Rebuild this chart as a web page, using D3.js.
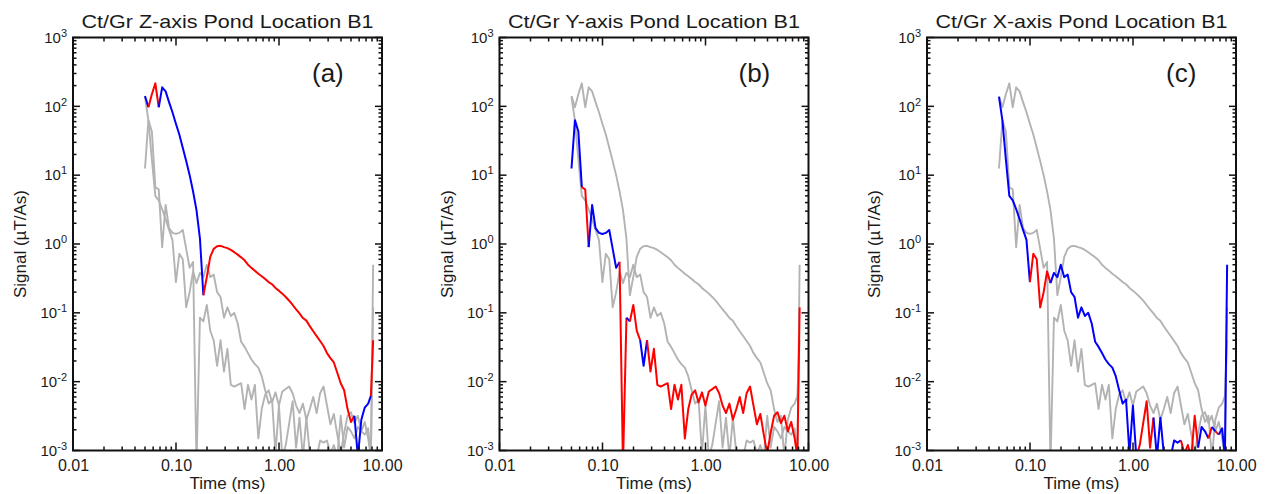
<!DOCTYPE html>
<html>
<head>
<meta charset="utf-8">
<script src="https://cdn.jsdelivr.net/npm/d3@7"></script>
<style>
  body { margin: 0; background: #fff; }
  svg text { font-family: "Liberation Sans", Arial, sans-serif; fill: #1a1a1a; }
</style>
</head>
<body>
<svg id="chart" width="1265" height="494"></svg>
<script>
// time gates (ms), shared by all three components
const gates = [
  0.0500, 0.0540, 0.0583, 0.0630, 0.0680, 0.0734, 0.0793, 0.0856, 0.0924, 0.0998,
  0.1077, 0.1163, 0.1256, 0.1357, 0.1465, 0.1581, 0.1708, 0.1844, 0.1991, 0.2150,
  0.2321, 0.2507, 0.2707, 0.2923, 0.3156, 0.3408, 0.3680, 0.3973, 0.4290, 0.4633,
  0.500, 0.540, 0.583, 0.630, 0.680, 0.734, 0.793, 0.856, 0.924, 0.998,
  1.077, 1.163, 1.256, 1.357, 1.465, 1.581, 1.708, 1.844, 1.991, 2.150,
  2.321, 2.507, 2.707, 2.923, 3.156, 3.408, 3.680, 3.973, 4.290, 4.633,
  5.00, 5.40, 5.83, 6.30, 6.80, 7.34, 7.80, 8.20
];

// signed signal (uT/As); positive drawn red, negative blue
const zAxis = [
  -141, -97, 150, 216, 97, -189, -165, -115, -82, -56,
  -39, -25, -16, -10, -5.8, -3.1, -1.2, -0.18, 0.33, 0.65,
  0.85, 0.93, 0.94, 0.90, 0.87, 0.82, 0.76, 0.70, 0.64, 0.58,
  0.50, 0.45, 0.41, 0.37, 0.34, 0.31, 0.28, 0.26, 0.23, 0.21,
  0.19, 0.17, 0.15, 0.13, 0.112, 0.098, 0.084, 0.077, 0.064, 0.054,
  0.046, 0.039, 0.033, 0.026, 0.022, 0.019, 0.0135, 0.0095, 0.0075, 0.004,
  0.0026, 0.0032, -0.0008, -0.0028, -0.0042, -0.0048, -0.0062, 0.04
];

const yAxis = [
  -12.5, -63, -43, -6.7, 6.2, 0.9, -3.7, -1.7, -1.45, -1.4,
  -1.45, -1.6, -0.85, -0.45, -0.55, 0.0006, 0.085, -0.075, 0.13, 0.055,
  0.04, -0.017, -0.04, 0.014, 0.03, 0.009, 0.0085, 0.009, 0.0095, 0.004,
  0.009, 0.0055, 0.009, 0.0015, 0.004, 0.0065, 0.0075, 0.005, 0.007, 0.0045,
  0.0072, 0.0078, 0.0085, 0.0068, 0.0045, 0.0035, 0.0048, 0.0028, 0.004, 0.006,
  0.0035, 0.0068, 0.0085, 0.0045, 0.0024, 0.0034, 0.0017, 0.0009, 0.0018, 0.0032,
  0.0036, 0.0025, 0.0032, 0.0019, 0.0026, 0.0015, 0.0008, 0.12
];

const xAxis = [
  -137, -62, -17, -5.0, -4.3, -3.2, -2.3, -1.6, -1.15, -0.28,
  0.72, 0.6, 0.12, 0.2, 0.4, 0.27, -0.38, -0.33, -0.5, -0.33,
  -0.36, -0.2, -0.17, -0.085, -0.12, -0.09, -0.1, -0.07, -0.038, -0.032,
  -0.026, -0.021, -0.018, -0.016, -0.012, -0.0075, -0.0048, -0.0055, -0.0009, -0.0045,
  -0.0008, 0.0012, 0.0025, 0.0052, 0.0011, 0.003, -0.0008, -0.003, -0.0009, 0.0009,
  -0.0008, -0.0014, -0.0013, -0.0014, 0.0009, 0.0012, 0.0008, 0.0032, 0.0011, -0.0022,
  -0.0019, -0.0015, 0.0022, -0.0019, 0.0017, -0.0021, -0.0008, -0.5
];

const series = { z: zAxis, y: yAxis, x: xAxis };

const panels = [
  { title: 'Ct/Gr Z-axis Pond Location B1', tag: '(a)', key: 'z' },
  { title: 'Ct/Gr Y-axis Pond Location B1', tag: '(b)', key: 'y' },
  { title: 'Ct/Gr X-axis Pond Location B1', tag: '(c)', key: 'x' }
];

const xMajor = [0.01, 0.1, 1, 10];
const xTickLabels = ['0.01', '0.10', '1.00', '10.00'];
const yMajor = [1e-3, 1e-2, 1e-1, 1, 1e1, 1e2, 1e3];

const lefts = [73, 499.5, 927];
const plotTop = 37.5, pw = 309, ph = 413;
const POS = '#ff0000', NEG = '#0000ff', GRAY = '#b3b3b3', INK = '#111';

const svg = d3.select('#chart');

const x = d3.scaleLog().domain([0.01, 10]).range([0, pw]);
const y = d3.scaleLog().domain([1e-3, 1e3]).range([ph, 0]);
const xMinor = x.ticks().filter(d => !xMajor.some(m => Math.abs(m - d) / m < 1e-6));
const yMinor = y.ticks().filter(d => !yMajor.some(m => Math.abs(m - d) / m < 1e-6));

svg.append('defs').append('clipPath').attr('id', 'plotclip')
  .append('rect').attr('width', pw).attr('height', ph);

const lineFor = vals => d3.line()
  .x(i => x(gates[i]))
  .y(i => y(Math.max(Math.abs(vals[i]), 1e-6)));

// split a signed series into same-sign runs (segment takes sign of its end point)
function runs(vals) {
  const out = [];
  let cur = null;
  for (let i = 1; i < vals.length; i++) {
    const c = vals[i] >= 0 ? POS : NEG;
    if (!cur || cur.c !== c) { cur = { c, idx: [i - 1] }; out.push(cur); }
    cur.idx.push(i);
  }
  return out;
}

// tick labels from d3 axes; tick marks drawn separately so they sit inside the frame
function labelAxis(g, gen, tx, ty, fontSize) {
  const a = g.append('g').attr('transform', `translate(${tx},${ty})`).call(gen);
  a.select('.domain').remove();
  a.selectAll('.tick line').remove();
  a.attr('font-size', fontSize).attr('font-family', null);
  return a;
}

function xTicks(g, vals, len) {
  g.append('g').selectAll('line').data(vals).join('line')
    .attr('x1', d => x(d)).attr('x2', d => x(d)).attr('y1', ph).attr('y2', ph - len)
    .attr('stroke', INK).attr('stroke-width', 1.5);
  g.append('g').selectAll('line').data(vals).join('line')
    .attr('x1', d => x(d)).attr('x2', d => x(d)).attr('y1', 0).attr('y2', len)
    .attr('stroke', INK).attr('stroke-width', 1.5);
}

function yTicks(g, vals, len) {
  g.append('g').selectAll('line').data(vals).join('line')
    .attr('y1', d => y(d)).attr('y2', d => y(d)).attr('x1', 0).attr('x2', len)
    .attr('stroke', INK).attr('stroke-width', 1.5);
  g.append('g').selectAll('line').data(vals).join('line')
    .attr('y1', d => y(d)).attr('y2', d => y(d)).attr('x1', pw).attr('x2', pw - len)
    .attr('stroke', INK).attr('stroke-width', 1.5);
}

panels.forEach((p, pi) => {
  const g = svg.append('g').attr('transform', `translate(${lefts[pi]},${plotTop})`);
  const plot = g.append('g').attr('clip-path', 'url(#plotclip)');

  // other two components in gray
  Object.keys(series).filter(k => k !== p.key).forEach(k => {
    plot.append('path')
      .attr('d', lineFor(series[k])(d3.range(gates.length)))
      .attr('fill', 'none')
      .attr('stroke', GRAY)
      .attr('stroke-width', 1.9)
      .attr('stroke-linejoin', 'round');
  });

  const vals = series[p.key];
  runs(vals).forEach(r => {
    plot.append('path')
      .attr('d', lineFor(vals)(r.idx))
      .attr('fill', 'none')
      .attr('stroke', r.c)
      .attr('stroke-width', 2)
      .attr('stroke-linejoin', 'round');
  });

  xTicks(g, xMajor, 8);
  xTicks(g, xMinor, 4);
  yTicks(g, yMajor, 7);
  yTicks(g, yMinor, 3.5);

  g.append('rect')
    .attr('width', pw).attr('height', ph)
    .attr('fill', 'none').attr('stroke', INK).attr('stroke-width', 2);

  labelAxis(g, d3.axisBottom(x).tickValues(xMajor).tickFormat((d, i) => xTickLabels[i])
    .tickSize(0).tickPadding(9), 0, ph, 16);

  const yLeft = labelAxis(g, d3.axisLeft(y).tickValues(yMajor).tickSize(0).tickPadding(6), 0, 0, 15);
  yLeft.selectAll('.tick text').each(function(d) {
    const t = d3.select(this).text('');
    t.append('tspan').text('10');
    t.append('tspan').attr('dy', -6).attr('font-size', 11).text(Math.round(Math.log10(d)));
  });

  g.append('text')
    .attr('x', pw / 2).attr('y', -10)
    .attr('text-anchor', 'middle')
    .attr('font-size', 19)
    .attr('textLength', 292).attr('lengthAdjust', 'spacingAndGlyphs')
    .text(p.title);

  g.append('text')
    .attr('x', 239).attr('y', 44)
    .attr('font-size', 26)
    .text(p.tag);

  g.append('text')
    .attr('x', pw / 2).attr('y', 489 - plotTop)
    .attr('text-anchor', 'middle')
    .attr('font-size', 17)
    .text('Time (ms)');

  g.append('text')
    .attr('transform', `translate(-47,${ph / 2}) rotate(-90)`)
    .attr('text-anchor', 'middle')
    .attr('font-size', 17)
    .text('Signal (µT/As)');
});
</script>
</body>
</html>
